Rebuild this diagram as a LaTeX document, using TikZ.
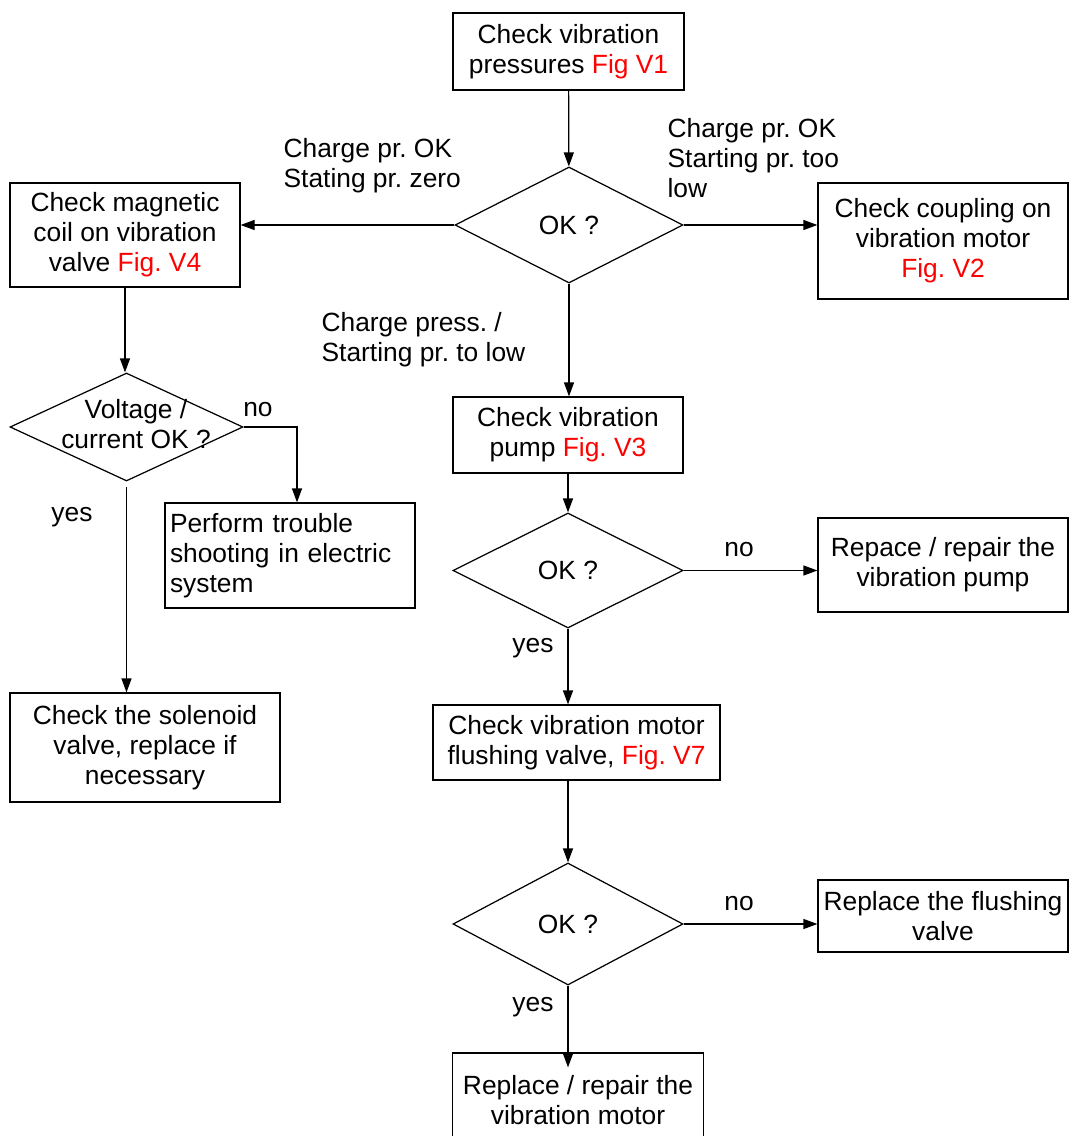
\documentclass[tikz,border=0pt]{standalone}
\usepackage{fontspec}
\setmainfont{Liberation Sans}
\usetikzlibrary{shapes.geometric,arrows.meta}
\frenchspacing
\begin{document}
\begin{tikzpicture}[line width=0.7pt,
  font=\fontsize{15}{17}\selectfont,
  box/.style={draw,rectangle,align=center,inner sep=2pt},
  dmnd/.style={draw,diamond,inner sep=0pt},
  txt/.style={inner sep=0pt,align=left},
  arr/.style={-{Triangle[length=0.28cm,width=0.2cm]}}]
\useasboundingbox (0,0) rectangle (21.38,-22.72);
% boxes
\node [box,minimum width=4.62cm,minimum height=1.54cm] (chkpress) at (11.37,-1.03) {Check vibration\\pressures \textcolor{red}{Fig V1}};
\node [dmnd,minimum width=4.56cm,minimum height=2.32cm] (ok1) at (11.38,-4.5) {OK ?};
\node [box,minimum width=4.6cm,minimum height=2.08cm] (magnet) at (2.5,-4.7) {Check magnetic\\coil on vibration\\valve \textcolor{red}{Fig. V4}};
\node [box,minimum width=5cm,minimum height=2.32cm] (coupling) at (18.86,-4.82) {Check coupling on\\vibration motor\\\textcolor{red}{Fig. V2}};
\node [box,minimum width=4.6cm,minimum height=1.52cm] (pump) at (11.36,-8.7) {Check vibration\\pump \textcolor{red}{Fig. V3}};
\node [dmnd,minimum width=4.6cm,minimum height=2.3cm] (ok2) at (11.36,-11.41) {OK ?};
\node [box,minimum width=5cm,minimum height=1.88cm] (reppump) at (18.86,-11.3) {Repace / repair the\\vibration pump};
\node [box,minimum width=5.74cm,minimum height=1.5cm] (flush) at (11.53,-14.85) {Check vibration motor\\flushing valve, \textcolor{red}{Fig. V7}};
\node [dmnd,minimum width=4.6cm,minimum height=2.44cm] (ok3) at (11.36,-18.48) {OK ?};
\node [box,minimum width=5cm,minimum height=1.44cm] (repflush) at (18.86,-18.32) {Replace the flushing\\valve};
\node [box,minimum width=5.02cm,minimum height=1.88cm] (repmotor) at (11.56,-22.0) {Replace / repair the\\vibration motor};
\node [dmnd,minimum width=4.66cm,minimum height=2.16cm] (volt) at (2.53,-8.54) {};
\node [txt,align=center] (volttxt) at (2.72,-8.48) {Voltage /\\current OK ?};
\node [box,minimum width=5cm,minimum height=2.1cm,text width=4.8cm,align=left] (elec) at (5.8,-11.11) {Perform trouble\\shooting in electric\\system};
\node [box,minimum width=5.4cm,minimum height=2.18cm] (solenoid) at (2.9,-14.95) {Check the solenoid\\valve, replace if\\necessary};
% labels
\node [txt,anchor=north west] (lzero) at (5.66,-2.76) {Charge pr. OK\\Stating pr. zero};
\node [txt,anchor=north west] (ltoo) at (13.34,-2.36) {Charge pr. OK\\Starting pr. too\\low};
\node [txt,anchor=north west] (lpress) at (6.42,-6.24) {Charge press. /\\Starting pr. to low};
\node [txt] (no1) at (5.16,-8.2) {no};
\node [txt] (yes1) at (1.44,-10.34) {yes};
\node [txt] (no2) at (14.78,-11.0) {no};
\node [txt] (yes2) at (10.66,-12.96) {yes};
\node [txt] (no3) at (14.78,-18.08) {no};
\node [txt] (yes3) at (10.66,-20.14) {yes};
% connectors
\draw [arr] (chkpress) -- (ok1);
\draw [arr] (ok1.west) -- (ok1.west -| magnet.east);
\draw [arr] (ok1.east) -- (ok1.east -| coupling.west);
\draw [arr] (ok1.south) -- (ok1.south |- pump.north);
\draw [arr] (magnet.south) -- (magnet.south |- volt.north);
\draw [arr] (volt.east) -| ([xshift=0.14cm]elec.north);
\draw [arr,shorten <=0.1cm] (volt.south) -- (volt.south |- solenoid.north);
\draw [arr] (pump.south -| ok2.north) -- (ok2.north);
\draw [arr] (ok2.east) -- (ok2.east -| reppump.west);
\draw [arr] (ok2.south) -- (ok2.south |- flush.north);
\draw [arr] (ok3.north |- flush.south) -- (ok3.north);
\draw [arr] (ok3.east) -- (ok3.east -| repflush.west);
\draw [arr] (ok3.south) -- ([yshift=-0.3cm]ok3.south |- repmotor.north);
\end{tikzpicture}
\end{document}
